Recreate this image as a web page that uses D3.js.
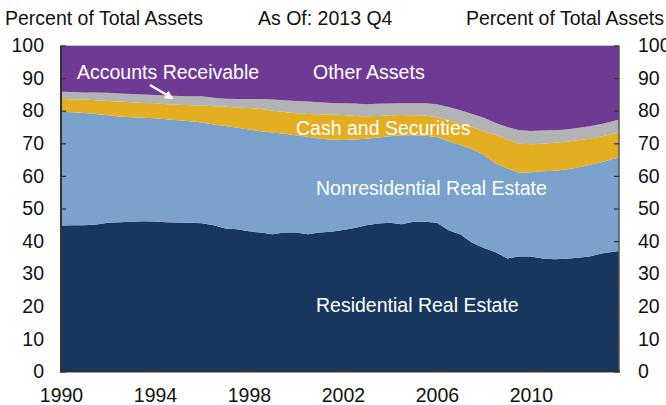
<!DOCTYPE html>
<html>
<head>
<meta charset="utf-8">
<script src="https://cdn.jsdelivr.net/npm/d3@7"></script>
<style>
  body { margin: 0; background: #fff; }
  text { font-family: "Liberation Sans", Arial, sans-serif; }
</style>
</head>
<body>
<script>
// half-year readings, last point is 2013 Q4
const years = [1990, 1990.5, 1991, 1991.5, 1992, 1992.5, 1993, 1993.5, 1994, 1994.5,
  1995, 1995.5, 1996, 1996.5, 1997, 1997.5, 1998, 1998.5, 1999, 1999.5,
  2000, 2000.5, 2001, 2001.5, 2002, 2002.5, 2003, 2003.5, 2004, 2004.5,
  2005, 2005.5, 2006, 2006.5, 2007, 2007.5, 2008, 2008.5, 2009, 2009.5,
  2010, 2010.5, 2011, 2011.5, 2012, 2012.5, 2013, 2013.5, 2013.75];

const residential = [44.8, 44.9, 44.9, 45.1, 45.6, 45.8, 45.9, 46.1, 46.0, 45.8,
  45.7, 45.6, 45.5, 44.9, 43.9, 43.6, 43.0, 42.6, 42.1, 42.6,
  42.6, 42.1, 42.6, 42.9, 43.4, 44.0, 44.9, 45.4, 45.6, 45.2,
  45.9, 45.9, 45.6, 43.3, 42.0, 39.5, 37.9, 36.6, 34.7, 35.3,
  35.3, 34.7, 34.4, 34.6, 34.9, 35.3, 36.2, 36.7, 37.0];

const nonresidential = [34.9, 34.6, 34.4, 33.9, 33.0, 32.4, 32.1, 31.7, 31.7, 31.6,
  31.4, 31.2, 30.9, 30.9, 31.4, 31.2, 31.2, 31.1, 31.2, 30.3,
  29.9, 29.9, 28.9, 28.2, 27.6, 27.2, 26.5, 26.4, 26.6, 27.3,
  26.6, 26.4, 26.3, 27.3, 27.5, 28.7, 28.6, 27.2, 27.6, 25.7,
  25.8, 26.7, 27.2, 27.4, 27.7, 28.1, 28.0, 28.5, 28.7];

const cash = [3.9, 4.0, 4.1, 4.2, 4.4, 4.6, 4.6, 4.6, 4.6, 4.6,
  4.7, 4.9, 5.2, 5.6, 5.9, 6.2, 6.6, 6.8, 6.7, 6.7,
  6.7, 7.0, 7.4, 7.7, 7.7, 7.2, 6.9, 6.6, 6.4, 6.2,
  6.1, 6.2, 6.1, 6.4, 6.5, 6.8, 7.2, 8.8, 8.9, 8.9,
  8.6, 8.5, 8.6, 8.5, 8.3, 8.0, 7.9, 7.7, 7.6];

const receivable = [2.2, 2.2, 2.2, 2.4, 2.5, 2.5, 2.5, 2.6, 2.5, 2.7,
  2.7, 2.7, 2.8, 2.6, 2.5, 2.6, 2.8, 3.1, 3.4, 3.6,
  3.8, 3.8, 3.7, 3.6, 3.6, 3.8, 3.7, 3.7, 3.6, 3.6,
  3.7, 3.8, 4.0, 4.1, 4.1, 4.0, 4.1, 3.6, 3.8, 4.1,
  4.1, 4.0, 3.8, 3.7, 3.8, 3.8, 3.8, 3.9, 4.0];

const other = [14.2, 14.3, 14.4, 14.4, 14.5, 14.7, 14.9, 15.0, 15.2, 15.3,
  15.5, 15.6, 15.6, 16.0, 16.3, 16.4, 16.4, 16.4, 16.6, 16.8,
  17.0, 17.2, 17.4, 17.6, 17.7, 17.8, 18.0, 17.9, 17.8, 17.7,
  17.7, 17.7, 18.0, 18.9, 19.9, 21.0, 22.2, 23.8, 25.0, 26.0,
  26.2, 26.1, 26.0, 25.8, 25.3, 24.8, 24.1, 23.2, 22.7];

const keys = ['residential', 'nonresidential', 'cash', 'receivable', 'other'];
const colors = ['#17375e', '#7aa2cd', '#e4ae23', '#b2b3b5', '#6f3a93'];
const xTicks = [1990, 1994, 1998, 2002, 2006, 2010];
const yTicks = [0, 10, 20, 30, 40, 50, 60, 70, 80, 90, 100];

const labels = [
  {text: 'Accounts Receivable', x: 77, y: 79},
  {text: 'Other Assets', x: 313, y: 79},
  {text: 'Cash and Securities', x: 296, y: 135},
  {text: 'Nonresidential Real Estate', x: 316, y: 195},
  {text: 'Residential Real Estate', x: 316, y: 312}
];

const rows = years.map((t, i) => ({
  t: t,
  residential: residential[i],
  nonresidential: nonresidential[i],
  cash: cash[i],
  receivable: receivable[i],
  other: other[i]
}));

const W = 666, H = 405;
const pLeft = 61, pRight = 619, pTop = 45.5, pBottom = 371.5;

const svg = d3.select('body').append('svg')
    .attr('width', W)
    .attr('height', H);

const x = d3.scaleLinear().domain([1990, 2013.75]).range([pLeft, pRight]);
const y = d3.scaleLinear().domain([0, 100]).range([pBottom, pTop]);

const series = d3.stack().keys(keys)(rows);

const area = d3.area()
    .x(d => x(d.data.t))
    .y0(d => y(d[0]))
    .y1(d => y(d[1]));

svg.append('g').selectAll('path')
  .data(series)
  .enter()
  .append('path')
    .attr('fill', (d, i) => colors[i])
    .attr('d', area);

// frame
svg.append('line').attr('x1', pLeft).attr('x2', pRight).attr('y1', pTop).attr('y2', pTop)
    .attr('stroke', '#c4c4c4').attr('stroke-width', 1);
svg.append('line').attr('x1', pRight).attr('x2', pRight).attr('y1', pTop).attr('y2', pBottom)
    .attr('stroke', '#555').attr('stroke-width', 1.5);

const fontSize = '19.5px';

const yLeft = svg.append('g')
    .attr('transform', `translate(${pLeft},0)`)
    .call(d3.axisLeft(y).tickValues(yTicks).tickSize(-5).tickPadding(17));
const yRight = svg.append('g')
    .attr('transform', `translate(${pRight},0)`)
    .call(d3.axisRight(y).tickValues(yTicks).tickSize(-5).tickPadding(19));
const xAxis = svg.append('g')
    .attr('transform', `translate(0,${pBottom})`)
    .call(d3.axisBottom(x).tickValues(xTicks).tickFormat(d3.format('d')).tickSize(-5).tickPadding(17));

[yLeft, yRight, xAxis].forEach(g => {
  g.select('.domain').remove();
  g.selectAll('.tick line').attr('stroke', '#333').attr('stroke-width', 1.2);
  g.selectAll('text').attr('fill', '#111').style('font-size', fontSize);
});

svg.append('line').attr('x1', pLeft).attr('x2', pLeft).attr('y1', pTop).attr('y2', pBottom + 1)
    .attr('stroke', '#333').attr('stroke-width', 2);
svg.append('line').attr('x1', pLeft - 1).attr('x2', pRight + 1).attr('y1', pBottom).attr('y2', pBottom)
    .attr('stroke', '#333').attr('stroke-width', 2);

// headers
svg.append('text').attr('x', 5).attr('y', 25).text('Percent of Total Assets')
    .attr('fill', '#111').style('font-size', fontSize);
svg.append('text').attr('x', 258).attr('y', 25).text('As Of: 2013 Q4')
    .attr('fill', '#111').style('font-size', fontSize);
svg.append('text').attr('x', 664).attr('y', 25).attr('text-anchor', 'end').text('Percent of Total Assets')
    .attr('fill', '#111').style('font-size', fontSize);

// area labels
svg.append('g').selectAll('text')
  .data(labels)
  .enter()
  .append('text')
    .attr('x', d => d.x)
    .attr('y', d => d.y)
    .attr('fill', '#fff')
    .style('font-size', fontSize)
    .text(d => d.text);

// arrow to the thin receivables band
svg.append('defs').append('marker')
    .attr('id', 'head')
    .attr('viewBox', '0 0 10 10')
    .attr('refX', 8).attr('refY', 5)
    .attr('markerWidth', 4).attr('markerHeight', 4)
    .attr('orient', 'auto')
  .append('path')
    .attr('d', 'M0,0L10,5L0,10z')
    .attr('fill', '#fff');

svg.append('line')
    .attr('x1', 150).attr('y1', 85)
    .attr('x2', 172).attr('y2', 98)
    .attr('stroke', '#fff')
    .attr('stroke-width', 2.2)
    .attr('marker-end', 'url(#head)');
</script>
</body>
</html>
